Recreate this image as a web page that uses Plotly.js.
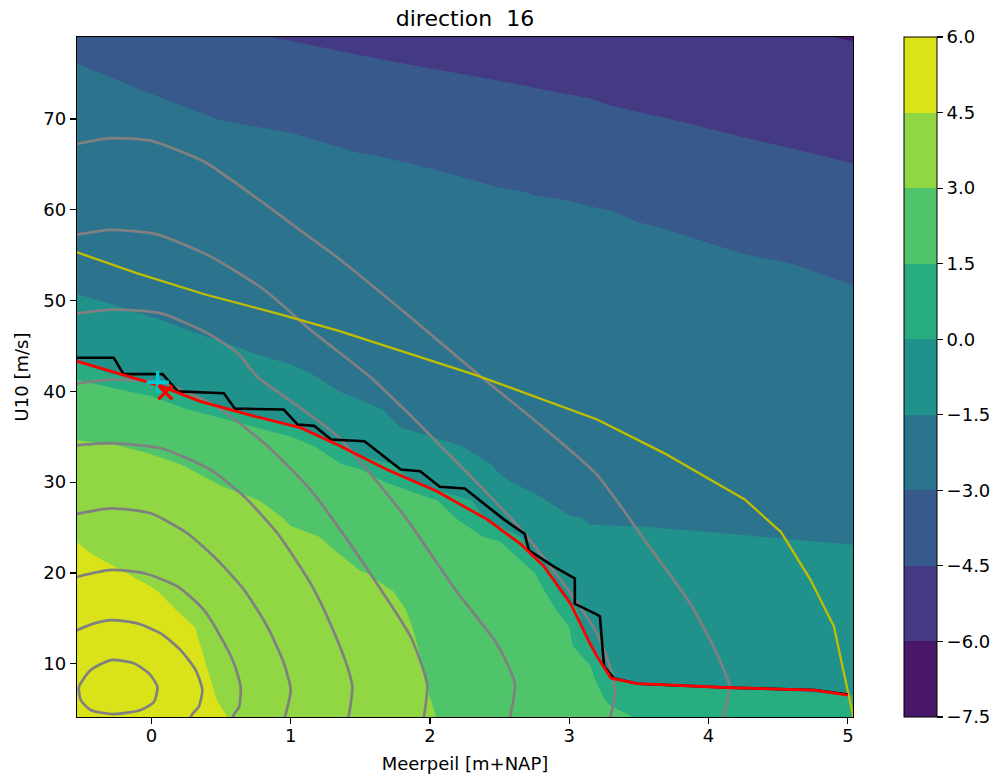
<!DOCTYPE html>
<html>
<head>
<meta charset="utf-8">
<script src="https://cdn.plot.ly/plotly-3.0.1.min.js"></script>
<style>html,body{margin:0;padding:0;background:#fff;}#chart{width:999px;height:776px;}</style>
</head>
<body>
<div id="chart"></div>
<script>
// ---- filled-contour field (per grid column) ----
const gridX = [-0.54, 0, 0.5, 1, 1.5, 2, 2.5, 2.75, 3.0, 3.15, 3.3, 3.5, 4.25, 5.05];
const gridY = [4,6,8,10,12,14,16,18,20,22,24,26,28,30,32,34,36,38,40,42,44,46,48,50,54,58,62,66,70,74,78,80];

const zAtXm054 = [5.60,5.49,5.37,5.26,5.15,5.04,4.92,4.81,4.70,4.58,4.47,4.17,3.90,3.64,3.37,3.11,2.78,2.62,2.47,0.975,-0.525,-0.75,-1.05,-1.45,-1.72,-1.93,-2.16,-2.38,-2.61,-2.86,-3.12,-3.55];
const zAtX000 = [5.05,4.97,4.90,4.82,4.74,4.67,4.59,4.53,4.40,4.22,3.98,3.75,3.52,3.30,3.09,2.92,2.87,2.82,1.06,-1.30,-1.36,-1.42,-1.49,-1.61,-1.86,-2.10,-2.34,-2.58,-2.82,-3.08,-3.60,-4.00];
const zAtX050 = [4.55,4.47,4.435,4.41,4.40,4.40,4.33,4.20,4.05,3.85,3.65,3.45,3.12,2.97,2.87,2.85,2.90,0.28,-1.30,-1.35,-1.43,-1.52,-1.60,-1.77,-2.01,-2.26,-2.51,-2.75,-3.01,-3.59,-4.19,-4.49];
const zAtX100 = [4.05,3.95,3.86,3.76,3.66,3.56,3.46,3.37,3.27,3.17,3.07,2.95,2.90,2.85,2.85,2.88,0.20,-1.30,-1.36,-1.44,-1.56,-1.68,-1.80,-1.92,-2.15,-2.38,-2.62,-2.90,-3.06,-3.70,-4.41,-4.71];
const zAtX150 = [3.55,3.48,3.42,3.35,3.28,3.21,3.15,3.08,3.01,2.93,2.90,2.88,2.86,2.85,1.00,-1.30,-1.36,-1.43,-1.56,-1.65,-1.76,-1.87,-1.98,-2.09,-2.31,-2.53,-2.75,-2.97,-3.49,-4.06,-4.64,-4.94];
const zAtX200 = [3.04,3.005,2.97,2.95,2.94,2.93,2.92,2.91,2.90,2.89,2.88,2.87,1.815,-0.915,-1.15,-1.38,-1.60,-1.65,-1.75,-1.85,-1.95,-2.05,-2.16,-2.26,-2.44,-2.60,-2.78,-3.12,-3.73,-4.27,-4.85,-5.15];
const zAtX250 = [2.60,2.65,2.70,2.72,2.75,2.77,2.78,2.79,2.80,2.80,1.06,-0.80,-1.20,-1.46,-1.55,-1.65,-1.74,-1.84,-1.93,-2.03,-2.12,-2.21,-2.31,-2.40,-2.59,-2.78,-2.95,-3.38,-3.95,-4.47,-5.06,-5.36];
const zAtX275 = [2.35,2.40,2.45,2.50,2.55,2.60,2.62,2.60,1.557,-0.243,-0.70,-1.10,-1.45,-1.58,-1.65,-1.74,-1.83,-1.92,-2.01,-2.10,-2.19,-2.28,-2.37,-2.46,-2.65,-2.83,-3.02,-3.54,-4.05,-4.57,-5.17,-5.47];
const zAtX300 = [2.10,2.05,2.00,1.90,1.75,1.52,0.80,-1.20,-1.40,-1.42,-1.45,-1.48,-1.60,-1.65,-1.74,-1.82,-1.91,-2.00,-2.09,-2.17,-2.26,-2.35,-2.43,-2.52,-2.68,-2.85,-3.05,-3.64,-4.15,-4.67,-5.30,-5.60];
const zAtX315 = [1.95,2.00,2.00,1.46,0.133,-0.90,-1.30,-1.38,-1.42,-1.45,-1.48,-1.51,-1.60,-1.69,-1.77,-1.86,-1.94,-2.03,-2.12,-2.20,-2.29,-2.38,-2.46,-2.55,-2.70,-2.85,-3.10,-3.70,-4.21,-4.72,-5.35,-5.65];
const zAtX330 = [1.90,1.30,0.2175,-0.87,-1.20,-1.30,-1.35,-1.38,-1.41,-1.44,-1.47,-1.52,-1.62,-1.70,-1.79,-1.88,-1.97,-2.05,-2.14,-2.23,-2.31,-2.40,-2.49,-2.57,-2.70,-2.86,-3.15,-3.78,-4.29,-4.85,-5.45,-5.75];
const zAtX350 = [1.45,0.70,-0.078,-0.50,-0.75,-0.95,-1.10,-1.22,-1.32,-1.40,-1.46,-1.53,-1.63,-1.72,-1.81,-1.90,-1.99,-2.08,-2.17,-2.26,-2.35,-2.43,-2.52,-2.61,-2.79,-2.93,-3.40,-3.90,-4.39,-4.97,-5.57,-5.87];
const zAtX425 = [0.95,0.376,-0.198,-0.40,-0.60,-0.78,-0.95,-1.10,-1.25,-1.37,-1.49,-1.60,-1.68,-1.78,-1.88,-1.97,-2.07,-2.17,-2.26,-2.36,-2.46,-2.55,-2.65,-2.75,-2.90,-3.25,-3.75,-4.25,-4.75,-5.19,-5.64,-5.87];
const zAtX505 = [0.40,0.08,-0.24,-0.45,-0.65,-0.83,-1.00,-1.15,-1.30,-1.43,-1.56,-1.65,-1.76,-1.86,-1.97,-2.07,-2.18,-2.28,-2.39,-2.49,-2.60,-2.70,-2.80,-2.92,-3.12,-3.62,-4.16,-4.61,-5.06,-5.50,-5.94,-6.17];

const zColumns = [zAtXm054, zAtX000, zAtX050, zAtX100, zAtX150, zAtX200, zAtX250, zAtX275, zAtX300, zAtX315, zAtX330, zAtX350, zAtX425, zAtX505];

// ---- contour levels / colorbar ticks ----
const levelStart = -7.5, levelEnd = 6.0, levelStep = 1.5;
const bandColors = ['#481769','#443a83','#38598c','#2c738e','#21918c','#27ad81','#4fc46a','#90d743','#dae319'];
const cbTickVals = [-7.5,-6.0,-4.5,-3.0,-1.5,0.0,1.5,3.0,4.5,6.0];
const cbTickText = ['\u22127.5','\u22126.0','\u22124.5','\u22123.0','\u22121.5','0.0','1.5','3.0','4.5','6.0'];

// ---- overlay lines ----
const grayCurves = [
  {x:[-0.52,-0.436,-0.29,-0.124,-0.017,0.043,0.019,-0.077,-0.27,-0.436,-0.507,-0.52],
   y:[7.46,9.3,10.4,10.03,8.93,7.46,5.81,4.9,4.45,4.9,6.0,7.46]},
  {x:[-0.54,-0.41,-0.29,-0.10,0.067,0.21,0.318,0.366,0.34,0.294,0.28],
   y:[13.65,14.44,14.8,14.44,13.34,11.5,9.3,7.1,5.26,4.45,4.0]},
  {x:[-0.54,-0.29,-0.05,0.19,0.378,0.497,0.594,0.641,0.63,0.594,0.585],
   y:[19.55,20.33,19.96,18.5,15.9,12.98,10.0,7.46,5.26,4.45,4.0]},
  {x:[-0.54,-0.29,-0.005,0.258,0.474,0.666,0.833,0.952,1.0,0.964,0.955],
   y:[26.5,27.12,26.57,24.37,21.43,18.12,14.08,10.03,7.1,4.45,4.0]},
  {x:[-0.54,-0.29,0.067,0.426,0.666,0.905,1.144,1.25,1.335,1.407,1.443,1.419,1.41],
   y:[34.05,34.29,33.74,31.35,28.41,24.37,18.82,15.6,12.6,9.67,7.46,4.45,4.0]},
  {x:[-0.54,-0.29,0.09,0.47,0.81,1.14,1.34,1.62,1.86,1.98,1.96,1.955],
   y:[40.85,41.3,40.9,38.3,34.3,29.2,25.1,18.8,13.0,7.8,4.45,4.0]},
  {x:[-0.54,-0.27,0.07,0.38,0.62,0.76,1.05,1.34,1.82,2.18,2.48,2.61,2.58,2.575],
   y:[48.55,49.0,48.6,46.6,44.2,41.6,38.4,35.0,26.2,18.2,12.2,7.8,4.45,4.0]},
  {x:[-0.54,-0.29,0.04,0.42,0.81,1.14,1.34,1.57,1.85,2.12,2.41,2.675,2.85,3.01,3.20,3.30,3.33,3.30,3.295],
   y:[57.25,57.8,57.3,54.9,51.2,46.8,44.4,41.6,37.5,33.3,28.8,24.4,21.0,17.75,13.3,9.3,6.7,4.45,4.0]},
  {x:[-0.54,-0.29,0.0,0.38,0.71,1.10,1.34,1.85,2.36,2.80,3.20,3.56,3.87,4.06,4.15,4.11,4.105],
   y:[67.25,67.9,67.6,65.3,61.8,57.4,54.7,48.3,41.7,36.2,30.8,23.2,16.6,11.1,7.5,4.45,4.0]}
];
const yellowX = [-0.54,-0.10,0.38,0.90,1.34,1.79,2.33,3.20,3.68,4.26,4.52,4.73,4.90,5.04];
const yellowY = [55.35,53.0,50.7,48.6,46.7,44.5,41.8,36.9,33.2,28.1,24.5,19.3,14.1,4.1];
const blackX = [-0.54,-0.27,-0.20,0.08,0.19,0.52,0.60,0.95,1.05,1.17,1.29,1.53,1.79,1.93,2.07,2.25,2.53,2.68,2.71,2.89,3.04,3.04,3.20,3.22,3.25,3.32,3.49,4.16,4.76,5.0];
const blackY = [43.7,43.7,41.9,41.9,40.0,39.8,38.1,38.0,36.35,36.2,34.7,34.5,31.4,31.2,29.5,29.3,25.9,24.3,22.5,20.7,19.4,16.6,15.4,15.2,9.7,8.4,7.8,7.35,7.1,6.6];
const redX = [-0.54,0.065,0.35,0.73,1.07,1.34,1.69,2.05,2.41,2.65,2.82,3.01,3.15,3.20,3.30,3.49,4.16,4.76,5.0];
const redY = [43.35,40.6,38.9,37.3,36.0,34.1,31.4,29.0,25.9,23.2,20.7,16.6,12.2,10.8,8.4,7.8,7.35,7.1,6.55];
const plusPoint = {x:[0.045], y:[41.0]};
const crossPoint = {x:[0.10], y:[39.9]};

// ---- build ----
const zGrid = gridY.map((_, j) => zColumns.map(col => col[j]));

const cuts = [0.15,0.25,0.35,0.45,0.55,0.65,0.75,0.85];
const contourScale = [[0, bandColors[0]]];
cuts.forEach((c, i) => { contourScale.push([c, bandColors[i]]); contourScale.push([c, bandColors[i+1]]); });
contourScale.push([1, bandColors[8]]);

const nb = bandColors.length;
const barScale = [];
bandColors.forEach((c, i) => { barScale.push([i/nb, c]); barScale.push([(i+1)/nb, c]); });

const font = 'DejaVu Sans, Verdana, sans-serif';
const traces = [];
traces.push({
  type:'contour', x:gridX, y:gridY, z:zGrid,
  autocontour:false,
  contours:{start:levelStart, end:levelEnd, size:levelStep, coloring:'fill', showlines:false},
  line:{width:0, smoothing:0},
  colorscale:contourScale, showscale:false, hoverinfo:'skip'
});
grayCurves.forEach(g => traces.push({
  type:'scatter', mode:'lines', x:g.x, y:g.y, hoverinfo:'skip', showlegend:false,
  line:{color:'#808080', width:2.7, shape:'spline', smoothing:0.6}
}));
traces.push({type:'scatter', mode:'lines', x:yellowX, y:yellowY, hoverinfo:'skip', showlegend:false,
  line:{color:'#bfbf00', width:2.3}});
traces.push({type:'scatter', mode:'lines', x:blackX, y:blackY, hoverinfo:'skip', showlegend:false,
  line:{color:'#000000', width:2.6}});
traces.push({type:'scatter', mode:'lines', x:redX, y:redY, hoverinfo:'skip', showlegend:false,
  line:{color:'#ff0000', width:2.8}});
traces.push({type:'scatter', mode:'markers', x:plusPoint.x, y:plusPoint.y, hoverinfo:'skip', showlegend:false,
  marker:{symbol:'cross-thin', size:16, color:'#00c8d2', line:{color:'#00c8d2', width:3.5}}});
traces.push({type:'scatter', mode:'markers', x:crossPoint.x, y:crossPoint.y, hoverinfo:'skip', showlegend:false,
  marker:{symbol:'x-thin', size:14, color:'#ff0000', line:{color:'#ff0000', width:3.2}}});
// colour bar
traces.push({
  type:'scatter', mode:'markers', x:[null], y:[null], hoverinfo:'skip', showlegend:false,
  marker:{color:[levelStart], cmin:levelStart, cmax:levelEnd, colorscale:barScale, showscale:true,
    colorbar:{
      thickness:33, thicknessmode:'pixels', len:1, lenmode:'fraction',
      x:904/999, xref:'container', xanchor:'left', xpad:0,
      y:0.5, yanchor:'middle', ypad:0,
      outlinewidth:1, outlinecolor:'#000', borderwidth:0,
      tickmode:'array', tickvals:cbTickVals, ticktext:cbTickText,
      ticks:'outside', ticklen:6, tickwidth:1.2, tickcolor:'#000',
      tickfont:{family:font, size:18, color:'#000'}
    }}
});

const axisCommon = {
  ticks:'outside', ticklen:6, tickwidth:1.2, tickcolor:'#000',
  showline:true, mirror:true, linecolor:'#000', linewidth:1.2,
  showgrid:false, zeroline:false, automargin:false, fixedrange:true,
  tickfont:{family:font, size:18, color:'#000'}
};
const layout = {
  width:999, height:776,
  margin:{l:77, r:146, t:37, b:59, pad:0},
  paper_bgcolor:'#fff', plot_bgcolor:'#fff',
  showlegend:false,
  font:{family:font, color:'#000'},
  title:{text:'direction\u00a0 16', font:{family:font, size:22, color:'#000'},
    x:0.5, xref:'paper', xanchor:'center', y:1-18/776, yref:'container', yanchor:'middle'},
  xaxis:Object.assign({}, axisCommon, {
    range:[-0.534, 5.037], tickmode:'array', tickvals:[0,1,2,3,4,5],
    ticklabelstandoff:-4,
    title:{text:'Meerpeil [m+NAP]', font:{family:font, size:18, color:'#000'}, standoff:12}
  }),
  yaxis:Object.assign({}, axisCommon, {
    range:[4.13, 79.04], tickmode:'array', tickvals:[10,20,30,40,50,60,70],
    title:{text:'U10 [m/s]', font:{family:font, size:18, color:'#000'}, standoff:10}
  })
};
Plotly.newPlot('chart', traces, layout, {displayModeBar:false, staticPlot:true});
</script>
</body>
</html>
